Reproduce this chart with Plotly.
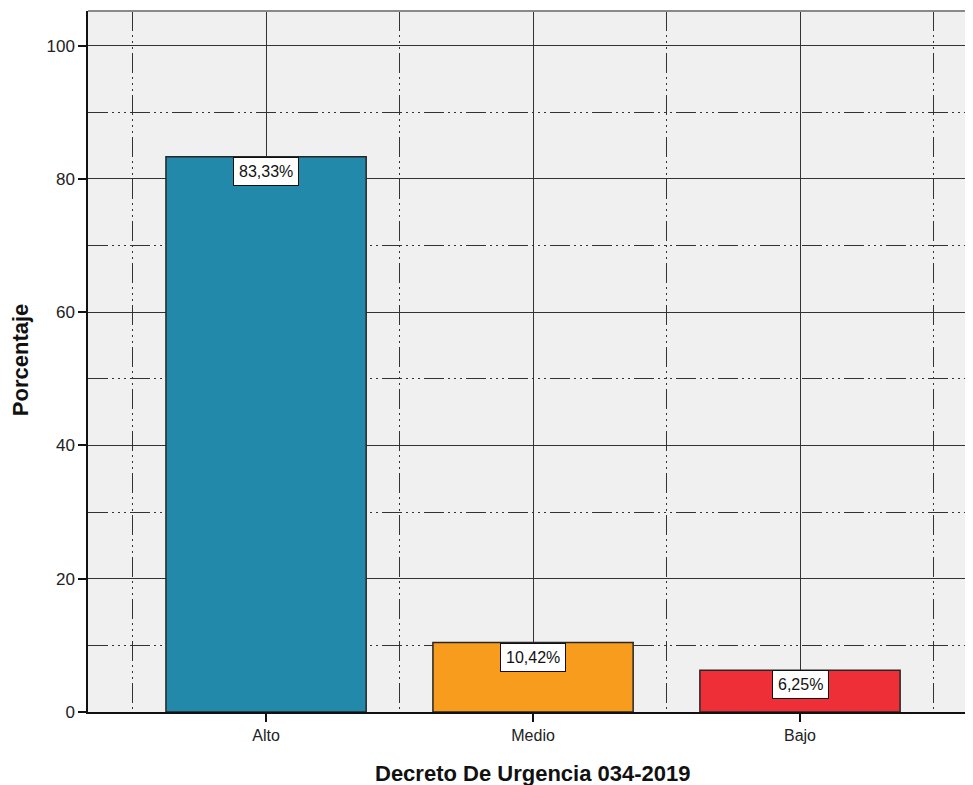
import plotly.graph_objects as go

categories = ["Alto", "Medio", "Bajo"]
values = [83.33, 10.42, 6.25]
labels = ["83,33%", "10,42%", "6,25%"]
colors = ["#2389AB", "#F89C1E", "#EE2F38"]
y_major = [0, 20, 40, 60, 80, 100]
y_minor = [10, 30, 50, 70, 90]

xpos = list(range(len(categories)))
x_minor = [i - 0.5 for i in xpos] + [xpos[-1] + 0.5]

dash = "20px,4px,2px,4px,2px,4px,2px,4px"
gridc = "#333333"
font = "Liberation Sans, Arial"

fig = go.Figure()
fig.add_trace(go.Bar(
    x=xpos, y=values, width=0.75,
    marker=dict(color=colors, line=dict(color="#262626", width=1.5)),
    hoverinfo="skip", showlegend=False,
))

for x, v, t in zip(xpos, values, labels):
    fig.add_annotation(
        x=x, y=v, xref="x", yref="y", text=t, showarrow=False,
        yanchor="top", xanchor="center",
        font=dict(family=font, size=16, color="#111"),
        bgcolor="white", bordercolor="#111", borderwidth=1, borderpad=5,
    )

fig.add_annotation(
    x=1, xref="x", y=0, yref="paper", yshift=-61, yanchor="middle",
    text="<b>Decreto De Urgencia 034-2019</b>", showarrow=False,
    font=dict(family=font, size=22, color="#111"),
)
fig.add_annotation(
    x=0, xref="paper", xshift=-68, xanchor="center", y=52.8, yref="y",
    text="<b>Porcentaje</b>", textangle=-90, showarrow=False,
    font=dict(family=font, size=22, color="#111"),
)

fig.add_shape(type="line", xref="paper", yref="paper", x0=0, x1=1, y0=1, y1=1,
              line=dict(color="#8a8a8a", width=2))

fig.update_layout(
    width=965, height=777,
    margin=dict(l=80, r=0, t=3, b=73),
    paper_bgcolor="white", plot_bgcolor="#F0F0F0",
    xaxis=dict(
        range=[-0.667, 2.648], tickvals=xpos, ticktext=categories,
        showgrid=True, gridcolor=gridc, gridwidth=1.2,
        showline=True, linecolor="#111", linewidth=1.5,
        ticks="outside", ticklen=8, tickcolor="#111", tickwidth=1.5,
        tickfont=dict(family=font, size=16, color="#222"),
        minor=dict(tickvals=x_minor, showgrid=True, gridcolor=gridc,
                   gridwidth=1.2, griddash=dash, ticklen=0),
        zeroline=False, fixedrange=True,
    ),
    yaxis=dict(
        range=[0, 105.2], tickvals=y_major,
        showgrid=True, gridcolor=gridc, gridwidth=1.2,
        showline=True, linecolor="#111", linewidth=1.5,
        ticks="outside", ticklen=8, tickcolor="#111", tickwidth=1.5,
        tickfont=dict(family=font, size=17, color="#222"),
        minor=dict(tickvals=y_minor, showgrid=True, gridcolor=gridc,
                   gridwidth=1.2, griddash=dash, ticklen=0),
        zeroline=False, fixedrange=True,
    ),
)

fig.write_html("out.html")
